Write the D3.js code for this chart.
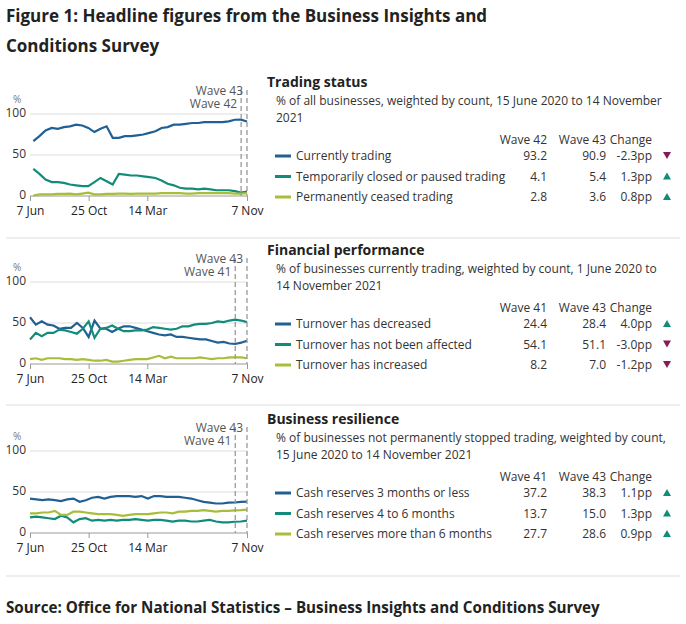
<!DOCTYPE html><html><head><meta charset="utf-8"><script src="https://cdn.jsdelivr.net/npm/d3@7"></script>
<style>body{margin:0;background:#fff;font-family:"Open Sans",sans-serif}</style></head><body><svg id="c" width="686" height="624"></svg>
<script>
const xTicks=["7 Jun","25 Oct","14 Mar","7 Nov"];
const xTickDates=[new Date(2020,5,7),new Date(2020,9,25),new Date(2021,2,14),new Date(2021,10,7)];
const yTicks=[0,50,100];
const colors=["#206095","#118c7b","#a8bd3a"];
// Trading status
const s1Names=["Currently trading","Temporarily closed or paused trading","Permanently ceased trading"];
const s1a=[67,73,80,83,82,84,85,87,86,83,78,82,85,71,71,73,73,74,75,77,79,83,84,87,87,88,89,89,90,90,90,90,91,93,93.2,90.9];
const s1b=[33,27,20,17,17,16,14,13,12,12,17,22,18,14,27,26,25,25,24,23,22,19,15,13,10,9,9,8,9,8,7,7,7,6,4.1,5.4];
const s1c=[0.5,2,2,2,2.5,2.5,3,2,3,4,2,2,2.5,2.5,3,3,2.5,3,3,3,3,3.5,3.5,3.5,3.5,3,3,3.5,3.5,3.5,3.5,3.5,3.5,3,2.8,3.6];
const s1Waves=["Wave 42","Wave 43"];const s1V1=["93.2","4.1","2.8"];const s1V2=["90.9","5.4","3.6"];
const s1Chg=["-2.3pp","1.3pp","0.8pp"];const s1Dir=[-1,1,1];
// Financial performance
const s2Names=["Turnover has decreased","Turnover has not been affected","Turnover has increased"];
const s2a=[57,48,52,48,47,43,44,44,50,44,33,53,43,43,39,43,46,46,44,42,40,38,36,35,36,33,33,32,31,30,30,28,26,27,25,24.4,26,28.4];
const s2b=[30,38,34,38,38,42,41,39,37,43,52,32,43,44,47,43,40,40,41,41,42,45,44,43,42,43,46,46,48,49,49,50,52,51,53,54.1,53,51.1];
const s2c=[6,7,5,7,7,7,6,6,5,6,5,4,4,5,3,3,4,5,6,6,6,8,10,7,9,7,7,7,7,8,7,6,7,7,8,8.2,8,7.0];
const s2Waves=["Wave 41","Wave 43"];const s2V1=["24.4","54.1","8.2"];const s2V2=["28.4","51.1","7.0"];
const s2Chg=["4.0pp","-3.0pp","-1.2pp"];const s2Dir=[1,-1,-1];
// Business resilience
const s3Names=["Cash reserves 3 months or less","Cash reserves 4 to 6 months","Cash reserves more than 6 months"];
const s3a=[42,41,40,41,40,39,41,42,38,40,43,44,42,44,45,45,45,44,45,42,45,45,44,44,44,43,42,40,38,37,36,36,37,37.2,38,38.3];
const s3b=[19,20,19,18,17,21,19,13,17,18,15,16,15,16,15,16,16,17,16,15,16,16,15,14,15,15,14,14,15,16,14,13,13,13.7,14,15.0];
const s3c=[24,24,25,25,27,22,22,26,26,25,24,23,23,23,22,21,22,23,23,23,24,25,25,24,26,26,27,27,28,27,26,27,27,27.7,28,28.6];
const s3Waves=["Wave 41","Wave 43"];const s3V1=["37.2","13.7","27.7"];const s3V2=["38.3","15.0","28.6"];
const s3Chg=["1.1pp","1.3pp","0.9pp"];const s3Dir=[1,1,1];

const svg=d3.select("#c");
svg.append("text").attr("x",6).attr("y",22).attr("font-size",17).attr("font-weight",700).attr("fill","#222").text("Figure 1: Headline figures from the Business Insights and");
svg.append("text").attr("x",6).attr("y",52).attr("font-size",17).attr("font-weight",700).attr("fill","#222").text("Conditions Survey");
svg.append("text").attr("x",6).attr("y",613).attr("font-size",15.2).attr("font-weight",700).attr("fill","#222").text("Source: Office for National Statistics – Business Insights and Conditions Survey");
[238,405,576].forEach(y=>svg.append("line").attr("x1",6).attr("x2",680).attr("y1",y).attr("y2",y).attr("stroke","#ddd"));

const x=d3.scaleTime().domain([xTickDates[0],xTickDates[3]]).range([30,247]);
function panel(top,title,sub,series,names,waves,v1,v2,chg,dir,startDate,waveDate){
  const y=d3.scaleLinear().domain([0,100]).range([top+196-82,top+114-82]);
  const g=svg.append("g");
  yTicks.forEach(t=>{g.append("line").attr("x1",30).attr("x2",247).attr("y1",y(t)).attr("y2",y(t)).attr("stroke",t?"#ddd":"#999");
    g.append("text").attr("x",26).attr("y",y(t)+3).attr("text-anchor","end").attr("font-size",12).attr("fill","#333").text(t);});
  g.append("text").attr("x",13).attr("y",y(100)-11).attr("font-size",10).attr("fill","#777").text("%");
  const ax=g.append("g").attr("transform",`translate(0,${y(0)})`).call(d3.axisBottom(x).tickValues(xTickDates).tickSize(5).tickFormat((d,i)=>xTicks[i]));
  ax.select(".domain").remove();ax.selectAll("line").attr("stroke","#999");ax.selectAll("text").attr("font-size",12).attr("fill","#222").attr("font-family","Open Sans").attr("dy","0.9em");
  const end=xTickDates[3];
  series.forEach((s,k)=>{
    const n=s.length;const t0=+startDate,t1=+end;
    const line=d3.line().x((d,i)=>x(new Date(t0+(t1-t0)*i/(n-1)))).y(d=>y(d));
    g.append("path").attr("d",line(s)).attr("fill","none").attr("stroke",colors[k]).attr("stroke-width",2.2);
  });
  [[waveDate,waves[0],top+108-82],[end,waves[1],top+95-82]].forEach(([d,l,ly])=>{
    g.append("line").attr("x1",x(d)).attr("x2",x(d)).attr("y1",top+90-82).attr("y2",y(0)).attr("stroke","#999").attr("stroke-dasharray","5,3").attr("stroke-width",1.3);
    g.append("text").attr("x",x(d)-4).attr("y",ly).attr("text-anchor","end").attr("font-size",12).attr("fill","#555").text(l);
  });
  g.append("text").attr("x",267).attr("y",top+5).attr("font-size",14).attr("font-weight",700).attr("fill","#222").text(title);
  sub.forEach((s,i)=>g.append("text").attr("x",276).attr("y",top+23+i*17).attr("font-size",12).attr("fill","#333").text(s));
  const hy=top+62;
  [[waves[0],547],[waves[1],606],["Change",652]].forEach(([t,xx])=>g.append("text").attr("x",xx).attr("y",hy).attr("text-anchor","end").attr("font-size",12).attr("fill","#333").text(t));
  names.forEach((nm,i)=>{const yy=top+78+i*20.5;
    g.append("line").attr("x1",275).attr("x2",291).attr("y1",yy-4).attr("y2",yy-4).attr("stroke",colors[i]).attr("stroke-width",3);
    g.append("text").attr("x",296).attr("y",yy).attr("font-size",12).attr("fill","#333").text(nm);
    g.append("text").attr("x",547).attr("y",yy).attr("text-anchor","end").attr("font-size",12).attr("fill","#333").text(v1[i]);
    g.append("text").attr("x",606).attr("y",yy).attr("text-anchor","end").attr("font-size",12).attr("fill","#333").text(v2[i]);
    g.append("text").attr("x",652).attr("y",yy).attr("text-anchor","end").attr("font-size",12).attr("fill","#333").text(chg[i]);
    const cx=667,cy=yy-4.5;
    const p=dir[i]>0?`M${cx-4},${cy+3.5}L${cx+4},${cy+3.5}L${cx},${cy-3.5}Z`:`M${cx-4},${cy-3.5}L${cx+4},${cy-3.5}L${cx},${cy+3.5}Z`;
    g.append("path").attr("d",p).attr("fill",dir[i]>0?"#118c7b":"#871a5b");
  });
}
panel(82,"Trading status",["% of all businesses, weighted by count, 15 June 2020 to 14 November","2021"],[s1a,s1b,s1c],s1Names,s1Waves,s1V1,s1V2,s1Chg,s1Dir,new Date(2020,5,15),new Date(2021,9,24));
panel(250,"Financial performance",["% of businesses currently trading, weighted by count, 1 June 2020 to","14 November 2021"],[s2a,s2b,s2c],s2Names,s2Waves,s2V1,s2V2,s2Chg,s2Dir,new Date(2020,5,7),new Date(2021,9,10));
panel(419,"Business resilience",["% of businesses not permanently stopped trading, weighted by count,","15 June 2020 to 14 November 2021"],[s3a,s3b,s3c],s3Names,s3Waves,s3V1,s3V2,s3Chg,s3Dir,new Date(2020,5,7),new Date(2021,9,10));
</script></body></html>
